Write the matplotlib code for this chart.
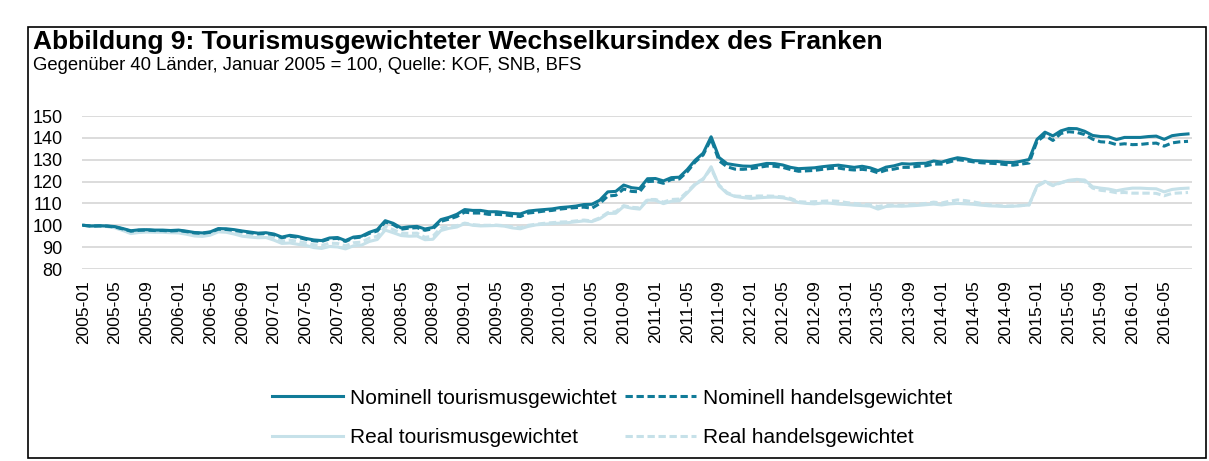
import matplotlib
matplotlib.use("Agg")
import matplotlib.pyplot as plt
from matplotlib.patches import Rectangle
import pandas as pd

plt.rcParams['font.family'] = ['Liberation Sans', 'DejaVu Sans']

# Monthly data 2005-01 .. 2016-08
months = pd.period_range("2005-01", "2016-08", freq="M").strftime("%Y-%m").tolist()

nominal_tourism = [
    100.0, 99.7, 99.8, 99.7, 99.4, 98.5, 97.5, 97.9, 98.0, 97.8, 97.8, 97.6,
    97.8, 97.3, 96.7, 96.5, 97.0, 98.5, 98.4, 98.0, 97.4, 96.9, 96.4, 96.6,
    96.0, 94.6, 95.4, 94.9, 94.0, 93.3, 93.0, 94.2, 94.4, 93.0, 94.6, 95.0,
    96.8, 98.0, 102.1, 100.9, 98.8, 99.3, 99.5, 98.3, 99.0, 102.6, 103.6, 105.0,
    107.2, 106.8, 106.8, 106.2, 106.2, 105.8, 105.4, 105.2, 106.5, 106.9, 107.2, 107.5,
    108.1, 108.4, 108.8, 109.5, 109.6, 111.5, 115.3, 115.5, 118.4, 117.2, 116.8, 121.3,
    121.4, 120.3, 121.8, 122.0, 125.5, 129.8, 133.0, 140.5, 131.0, 128.2, 127.6, 127.1,
    127.0, 127.6, 128.3, 128.2, 127.6, 126.5, 125.9, 126.1, 126.3, 126.8, 127.2, 127.5,
    127.0, 126.5, 127.0, 126.3, 125.0, 126.6, 127.2, 128.2, 128.0, 128.3, 128.4, 129.4,
    128.9, 130.0, 130.9, 130.4, 129.6, 129.4, 129.2, 129.2, 128.8, 128.7, 129.3, 130.1,
    139.3, 142.6, 140.9, 143.2, 144.3, 144.2, 143.0, 141.1, 140.6, 140.5, 139.2, 140.2,
    140.2, 140.2, 140.6, 140.8, 139.3, 141.0, 141.5, 141.8,
]

nominal_trade = [
    100.0, 99.6, 99.7, 99.6, 99.2, 98.3, 97.3, 97.7, 97.8, 97.6, 97.6, 97.4,
    97.6, 97.1, 96.5, 96.3, 96.8, 98.2, 98.1, 97.7, 97.1, 96.6, 96.1, 96.3,
    95.7, 94.3, 95.0, 94.5, 93.6, 92.9, 92.6, 93.8, 94.0, 92.6, 94.2, 94.6,
    96.3, 97.4, 101.5, 100.3, 98.2, 98.7, 98.9, 97.7, 98.4, 101.8, 102.8, 104.0,
    106.0, 105.6, 105.6, 105.0, 105.0, 104.8, 104.3, 104.0, 105.6, 106.0, 106.5, 106.8,
    107.4, 107.8, 108.1, 108.3, 107.8, 110.0, 113.4, 113.7, 116.6, 115.5, 115.3, 120.0,
    120.2, 119.2, 121.0, 121.2, 124.5, 129.0, 132.2, 139.5, 129.5, 126.8, 125.7, 125.6,
    125.9, 126.5, 127.1, 127.0, 126.5, 125.5, 124.7, 124.9, 125.1, 125.6, 126.0, 126.2,
    125.6, 125.3, 125.6, 125.2, 124.0, 125.2, 125.7, 126.5, 126.5, 127.0, 127.2, 128.0,
    128.0, 129.0, 130.0, 129.6, 129.0, 128.6, 128.4, 128.2, 127.8, 127.5, 128.0, 128.5,
    138.4, 141.1, 138.8, 142.0, 142.8, 142.5, 141.5, 139.4, 138.2, 138.0, 136.9, 137.3,
    136.9, 137.0, 137.4, 137.6, 136.2, 137.7, 138.2, 138.4,
]

real_tourism = [
    100.0, 99.5, 99.6, 99.4, 98.8, 97.6, 96.2, 96.7, 96.9, 96.8, 96.8, 96.6,
    96.5, 95.9, 95.1, 94.9, 95.5, 97.0, 96.8, 96.0, 95.0, 94.6, 94.3, 94.4,
    93.2, 91.7, 91.9, 91.3, 90.8, 89.8, 89.4, 90.3, 90.1, 89.2, 90.6, 90.9,
    92.6, 93.5, 97.8, 96.6, 95.3, 95.0, 95.1, 93.4, 93.6, 97.6, 98.6, 99.2,
    100.8, 100.0, 99.7, 99.8, 99.9, 99.6, 98.8, 98.4, 99.5, 100.2, 100.5, 100.8,
    101.0, 101.2, 101.6, 102.0, 101.7, 103.0, 105.4, 105.5, 108.6, 107.8, 107.4, 111.5,
    111.4, 109.9, 111.0, 111.2, 114.8, 118.6, 121.0, 126.8, 118.0, 114.6, 113.2, 112.7,
    112.3, 112.6, 112.8, 112.9, 112.6, 111.8, 110.4, 110.0, 109.8, 110.2, 110.1, 109.7,
    109.5, 109.2, 109.0, 108.8, 107.4, 108.6, 108.8, 108.7, 108.9, 109.1, 109.4, 109.7,
    109.3, 109.8, 110.0, 109.8, 109.6, 109.2, 108.9, 108.8, 108.6, 108.7, 109.0, 109.3,
    118.0, 120.1, 118.4, 119.5, 120.6, 121.0, 120.7, 117.6, 117.0, 116.6, 115.8, 116.5,
    117.0, 117.0, 116.8, 116.7, 115.3, 116.4, 116.8, 117.0,
]

real_trade = [
    100.0, 99.6, 99.7, 99.5, 99.0, 97.9, 96.6, 97.1, 97.3, 97.2, 97.2, 97.0,
    97.0, 96.5, 95.8, 95.6, 96.2, 97.6, 97.4, 96.8, 95.9, 95.5, 95.1, 95.3,
    94.4, 92.8, 93.2, 92.6, 91.9, 91.1, 90.8, 91.8, 91.7, 90.6, 92.0, 92.3,
    94.1, 95.0, 99.4, 98.0, 96.4, 96.3, 96.4, 94.5, 95.0, 98.8, 99.5, 99.8,
    101.0, 100.3, 100.0, 100.0, 100.1, 99.8, 99.3, 98.9, 100.0, 100.5, 100.9, 101.2,
    101.5, 101.6, 102.0, 102.4, 102.0, 103.4, 105.8, 106.2, 109.0, 108.2, 108.0, 111.8,
    111.8, 110.6, 111.8, 112.0, 115.4, 119.0, 121.3, 125.8, 118.4, 115.0, 113.4, 113.2,
    113.2, 113.4, 113.4, 113.3, 113.0, 112.3, 110.8, 110.6, 110.8, 111.0, 111.2, 111.0,
    110.4, 110.0, 109.6, 109.4, 108.6, 109.2, 109.2, 109.1, 109.4, 109.6, 110.0, 110.6,
    110.2, 111.0, 111.6, 111.3, 110.7, 110.0, 109.4, 109.0, 108.8, 108.9, 109.0, 109.3,
    117.8, 119.8, 118.1, 119.4, 120.4, 120.6, 120.0, 117.0, 116.0, 115.6, 114.9, 115.0,
    114.7, 114.7, 114.7, 114.6, 113.5, 114.6, 114.8, 115.0,
]

labels = ["Nominell tourismusgewichtet", "Nominell handelsgewichtet",
          "Real tourismusgewichtet", "Real handelsgewichtet"]
yticks = [80, 90, 100, 110, 120, 130, 140, 150]

DARK = "#117b98"
LIGHT = "#c6e1e9"

W, H = 1209, 461
fig = plt.figure(figsize=(W / 100, H / 100), dpi=100)

def fx(px):
    return px / W

def fy(py):
    return 1 - py / H

ax = fig.add_axes([fx(82), fy(269), fx(1192) - fx(82), fy(116) - fy(269)])

x = list(range(len(months)))
l_rt, = ax.plot(x, real_tourism, color=LIGHT, lw=2.2, solid_joinstyle="round")
l_rd, = ax.plot(x, real_trade, color=LIGHT, lw=2.2, dashes=(2.4, 1.2))
l_nt, = ax.plot(x, nominal_tourism, color=DARK, lw=2.2, solid_joinstyle="round")
l_nd, = ax.plot(x, nominal_trade, color=DARK, lw=2.2, dashes=(2.4, 1.2))

ax.set_ylim(80, 150)
ax.set_xlim(-0.15, len(months) - 0.5)
ax.set_yticks(yticks)
ax.set_yticklabels([str(v) for v in yticks], fontsize=13)
ax.set_xticks(x[::4])
ax.set_xticklabels(months[::4], rotation=90, fontsize=12.5)
ax.tick_params(axis="both", length=0)
ax.tick_params(axis="y", pad=14)
ax.tick_params(axis="x", pad=8)
ax.grid(axis="y", color="#d9d9d9", lw=1.3)
ax.set_axisbelow(True)
for s in ax.spines.values():
    s.set_visible(False)

# legend rows: (NT, ND) / (RT, RD); matplotlib fills column-wise
fig.legend([l_nt, l_rt, l_nd, l_rd],
           [labels[0], labels[2], labels[1], labels[3]],
           ncol=2, loc="center",
           bbox_to_anchor=(fx(612), fy(418)), frameon=False, fontsize=15,
           handlelength=3.4, handletextpad=0.33, columnspacing=0.4,
           labelspacing=0.98)

fig.text(fx(33), fy(42), "Abbildung 9: Tourismusgewichteter Wechselkursindex des Franken",
         fontsize=19, fontweight="bold", va="center", ha="left")
fig.text(fx(33), fy(65), "Gegenüber 40 Länder, Januar 2005 = 100, Quelle: KOF, SNB, BFS",
         fontsize=13.3, va="center", ha="left")

fig.patches.append(Rectangle((fx(28), fy(458)), fx(1206) - fx(28), fy(27) - fy(458),
                             transform=fig.transFigure, fill=False, ec="black", lw=1.2))

fig.savefig("out.png", dpi=100)
